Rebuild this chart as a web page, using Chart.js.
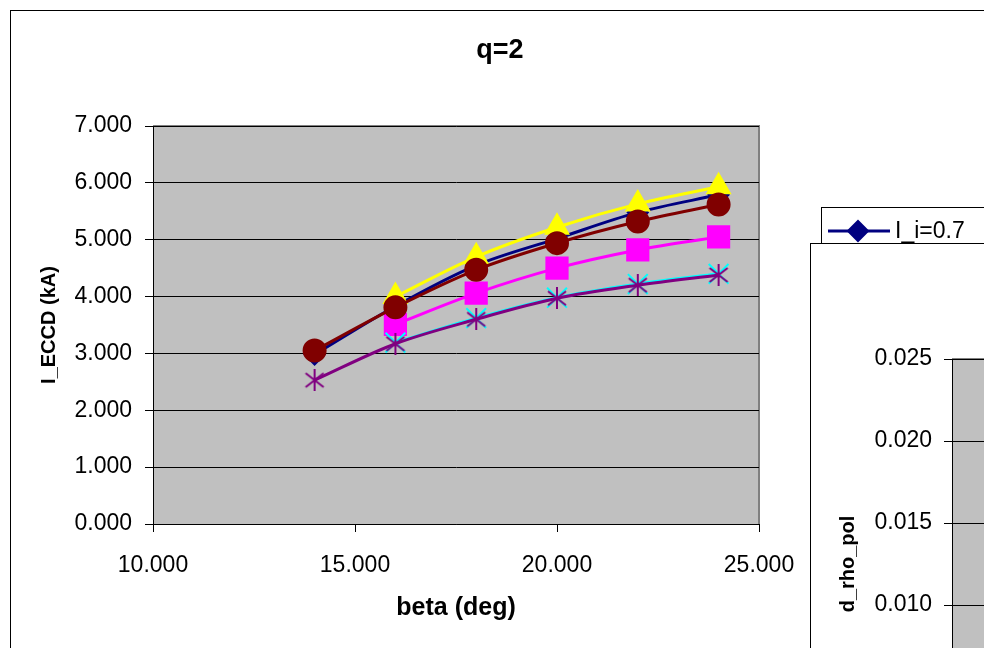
<!DOCTYPE html>
<html>
<head>
<meta charset="utf-8">
<script src="https://cdn.jsdelivr.net/npm/chart.js@4.4.1/dist/chart.umd.min.js"></script>
<style>
  html, body { margin: 0; padding: 0; width: 984px; height: 648px; overflow: hidden; background: #fff; }
  #main { position: absolute; left: 10px; top: 10px; width: 1000px; height: 760px; border: 1px solid #000; background: #fff; }
  #main canvas, #second canvas { position: absolute; left: 0; top: 0; }
  #second { position: absolute; left: 810px; top: 243px; width: 420px; height: 620px; border: 1px solid #000; background: #fff; z-index: 2; }
</style>
</head>
<body>
<div id="main"><canvas id="eccdChart" width="978" height="760"></canvas></div>
<div id="second"><canvas id="rhoChart" width="420" height="620"></canvas></div>
<script>
const FONT = "'Liberation Sans', Arial, sans-serif";

/* =========================
   DATA
========================= */
const beta = [14, 16, 18, 20, 22, 24];
const seriesLabels = ["I_i=0.7", "I_i=0.8", "I_i=0.9", "I_i=1.0", "I_i=1.1", "I_i=1.2"];
const eccd07 = [2.98, 3.83, 4.55, 5.02, 5.48, 5.79];
const eccd08 = [null, 3.51, 4.06, 4.50, 4.82, 5.05];
const eccd09 = [null, 4.00, 4.70, 5.22, 5.63, 5.93];
const eccd10 = [null, 3.19, 3.62, 3.98, 4.22, 4.40];
const eccd11 = [2.53, 3.17, 3.60, 3.97, 4.20, 4.38];
const eccd12 = [3.05, 3.81, 4.47, 4.94, 5.32, 5.62];

const betaTicks = [10, 15, 20, 25];
const eccdTicks = [0, 1, 2, 3, 4, 5, 6, 7];
const rhoTicks = [0, 0.005, 0.010, 0.015, 0.020, 0.025];

/* =========================
   MARKERS
========================= */
function starMarker(color) {
  const c = document.createElement("canvas");
  c.width = 22; c.height = 22;
  const g = c.getContext("2d");
  g.strokeStyle = color;
  g.lineWidth = 2;
  g.beginPath();
  g.moveTo(11, 0); g.lineTo(11, 22);
  g.moveTo(2, 4); g.lineTo(20, 18);
  g.moveTo(20, 4); g.lineTo(2, 18);
  g.stroke();
  return c;
}

const styles = [
  { color: "#000080", point: "rectRot", r: 10 },
  { color: "#FF00FF", point: "rect", r: 15 },
  { color: "#FFFF00", point: "triangle", r: 13 },
  { color: "#00FFFF", point: "crossRot", r: 14 },
  { color: "#800080", point: starMarker("#800080"), r: 11 },
  { color: "#800000", point: "circle", r: 11 }
];

function points(vals) {
  return beta.map((b, i) => ({ x: b, y: vals[i] })).filter(p => p.y !== null);
}

const allSeries = [eccd07, eccd08, eccd09, eccd10, eccd11, eccd12];

const datasets = allSeries.map((vals, i) => ({
  label: seriesLabels[i],
  data: points(vals),
  borderColor: styles[i].color,
  backgroundColor: styles[i].color,
  pointBackgroundColor: styles[i].color,
  pointBorderColor: styles[i].color,
  pointBorderWidth: 2,
  pointStyle: styles[i].point,
  pointRadius: styles[i].r,
  borderWidth: 3,
  tension: 0.33,
  order: allSeries.length - i
}));

/* =========================
   PLUGINS
========================= */
const plotBg = {
  id: "plotBg",
  beforeDraw(chart) {
    const { ctx, chartArea: a } = chart;
    ctx.save();
    ctx.fillStyle = "#C0C0C0";
    ctx.fillRect(a.left, a.top, a.right - a.left, a.bottom - a.top);
    ctx.strokeStyle = "#808080";
    ctx.lineWidth = 2;
    ctx.beginPath();
    ctx.moveTo(a.left, a.top);
    ctx.lineTo(a.right, a.top);
    ctx.lineTo(a.right, a.bottom);
    ctx.stroke();
    ctx.restore();
  }
};

const boxLegend = {
  id: "boxLegend",
  afterDraw(chart) {
    const { ctx, chartArea: a } = chart;
    const sets = chart.data.datasets;
    const x0 = a.right + 62, y0 = a.top + 81, rowH = 30, w = 175;
    const h = rowH * sets.length + 12;
    ctx.save();
    ctx.fillStyle = "#fff";
    ctx.fillRect(x0, y0, w, h);
    ctx.strokeStyle = "#000";
    ctx.lineWidth = 1;
    ctx.strokeRect(x0 + 0.5, y0 + 0.5, w, h);
    sets.forEach((ds, i) => {
      const cy = y0 + 24 + i * rowH;
      ctx.strokeStyle = ds.borderColor;
      ctx.lineWidth = 3;
      ctx.beginPath();
      ctx.moveTo(x0 + 7, cy);
      ctx.lineTo(x0 + 69, cy);
      ctx.stroke();
      ctx.fillStyle = ds.borderColor;
      ctx.strokeStyle = ds.borderColor;
      ctx.lineWidth = 2;
      Chart.helpers.drawPoint(ctx, {
        pointStyle: ds.pointStyle,
        radius: Math.min(ds.pointRadius, 10),
        rotation: 0,
        borderWidth: 2
      }, x0 + 37, cy);
      ctx.fillStyle = "#000";
      ctx.font = "23px " + FONT;
      ctx.textBaseline = "middle";
      ctx.textAlign = "left";
      ctx.fillText(ds.label, x0 + 74, cy + 1);
    });
    ctx.restore();
  }
};

/* =========================
   MAIN CHART  (q=2)
========================= */
new Chart(document.getElementById("eccdChart"), {
  type: "line",
  data: { datasets: datasets },
  plugins: [plotBg, boxLegend],
  options: {
    responsive: false,
    animation: false,
    devicePixelRatio: 1,
    layout: { padding: { left: 0, top: 0, right: 0, bottom: 147 } },
    plugins: {
      legend: { display: false },
      tooltip: { enabled: false },
      title: {
        display: true,
        text: "q=2",
        color: "#000",
        font: { family: FONT, size: 27, weight: "bold", lineHeight: 1.2 },
        padding: { top: 23, bottom: 59.6 }
      }
    },
    scales: {
      x: {
        type: "linear",
        min: 10,
        max: 25,
        afterBuildTicks: s => { s.ticks = betaTicks.map(v => ({ value: v })); },
        afterFit: s => { s.height = 100; },
        ticks: {
          color: "#000",
          padding: 20,
          font: { family: FONT, size: 23 },
          callback: v => Number(v).toFixed(3)
        },
        grid: { drawOnChartArea: false, color: "#000", tickLength: 8 },
        border: { color: "#000", width: 1 },
        title: {
          display: true,
          text: "beta (deg)",
          color: "#000",
          font: { family: FONT, size: 25, weight: "bold", lineHeight: 1.2 },
          padding: { top: 0, bottom: 1 }
        }
      },
      y: {
        min: 0,
        max: 7,
        afterBuildTicks: s => { s.ticks = eccdTicks.map(v => ({ value: v })); },
        afterFit: s => { s.width = 142; },
        ticks: {
          color: "#000",
          padding: 13,
          font: { family: FONT, size: 23 },
          callback: v => Number(v).toFixed(3)
        },
        grid: { color: "#000", tickLength: 8 },
        border: { color: "#000", width: 1 },
        title: {
          display: true,
          text: "I_ECCD (kA)",
          color: "#000",
          font: { family: FONT, size: 20, weight: "bold", lineHeight: 1.2 },
          padding: { top: 26, bottom: 0 }
        }
      },
      yPad: {
        type: "linear",
        position: "right",
        min: 0,
        max: 1,
        afterFit: s => { s.width = 230; },
        ticks: { display: false },
        grid: { display: false },
        border: { display: false }
      }
    }
  }
});

/* =========================
   SECOND CHART (d_rho_pol)
========================= */
new Chart(document.getElementById("rhoChart"), {
  type: "line",
  data: { datasets: [] },
  plugins: [plotBg],
  options: {
    responsive: false,
    animation: false,
    devicePixelRatio: 1,
    layout: { padding: { left: 0, top: 115, right: 0, bottom: 35 } },
    plugins: {
      legend: { display: false },
      tooltip: { enabled: false }
    },
    scales: {
      x: {
        type: "linear",
        min: 10,
        max: 25,
        afterBuildTicks: s => { s.ticks = betaTicks.map(v => ({ value: v })); },
        afterFit: s => { s.height = 60; },
        ticks: { color: "#000", font: { family: FONT, size: 23 }, callback: v => Number(v).toFixed(3) },
        grid: { drawOnChartArea: false, color: "#000", tickLength: 8 },
        border: { color: "#000" }
      },
      y: {
        min: 0,
        max: 0.025,
        afterBuildTicks: s => { s.ticks = rhoTicks.map(v => ({ value: v })); },
        afterFit: s => { s.width = 141; },
        ticks: {
          color: "#000",
          padding: 12,
          font: { family: FONT, size: 23 },
          callback: v => Number(v).toFixed(3)
        },
        grid: { color: "#000", tickLength: 8 },
        border: { color: "#000" },
        title: {
          display: true,
          text: "d_rho_pol",
          color: "#000",
          font: { family: FONT, size: 20, weight: "bold", lineHeight: 1.2 },
          padding: { top: 25, bottom: 0 }
        }
      }
    }
  }
});
</script>
</body>
</html>
